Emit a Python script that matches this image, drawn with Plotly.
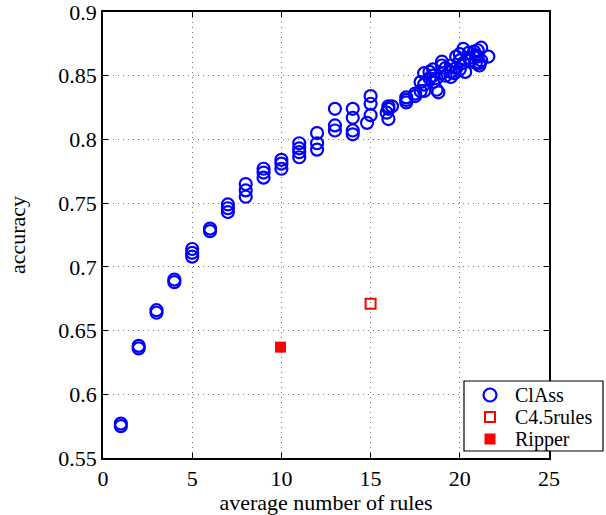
import plotly.graph_objects as go

# ClAss results: (average number of rules, accuracy)
class_x = [1, 1,
           2, 2,
           3, 3,
           4, 4,
           5, 5, 5,
           6, 6,
           7, 7, 7,
           8, 8, 8,
           9, 9, 9,
           10, 10, 10,
           11, 11, 11, 11,
           12, 12, 12,
           13, 13, 13,
           14, 14, 14, 14,
           15, 15, 15, 14.8,
           16, 16, 16, 15.9, 16.2,
           17, 17, 17,
           17.5, 17.5,
           17.8, 17.8,
           18, 18, 18,
           18.3, 18.3,
           18.5, 18.5, 18.5,
           18.7, 18.7, 18.8,
           19, 19, 19,
           19.2, 19.2,
           19.5, 19.5, 19.5,
           19.8, 19.8, 19.7,
           20, 20, 20,
           20.2, 20.2, 20.3,
           20.5, 20.5, 20.6,
           20.8, 20.9, 20.9,
           21, 21, 21.1,
           21.2, 21.2, 21.1,
           21.6]
class_y = [0.577, 0.575,
           0.638, 0.636,
           0.666, 0.664,
           0.690, 0.688,
           0.714, 0.711, 0.708,
           0.730, 0.728,
           0.749, 0.746, 0.743,
           0.765, 0.760, 0.755,
           0.777, 0.774, 0.770,
           0.784, 0.781, 0.777,
           0.797, 0.793, 0.790, 0.786,
           0.805, 0.797, 0.792,
           0.824, 0.811, 0.807,
           0.824, 0.817, 0.807, 0.804,
           0.834, 0.828, 0.819, 0.813,
           0.826, 0.824, 0.816, 0.821, 0.826,
           0.833, 0.831, 0.829,
           0.836, 0.834,
           0.845, 0.838,
           0.852, 0.843, 0.838,
           0.853, 0.848,
           0.855, 0.850, 0.845,
           0.848, 0.839, 0.837,
           0.861, 0.858, 0.852,
           0.856, 0.850,
           0.858, 0.853, 0.849,
           0.865, 0.856, 0.852,
           0.867, 0.862, 0.855,
           0.871, 0.860, 0.853,
           0.868, 0.864, 0.862,
           0.869, 0.866, 0.860,
           0.870, 0.865, 0.860,
           0.872, 0.862, 0.858,
           0.865]

c45_x = [15.0]
c45_y = [0.671]

ripper_x = [9.95]
ripper_y = [0.637]

series_names = ["ClAss", "C4.5rules", "Ripper"]

x_ticks = [0, 5, 10, 15, 20, 25]
y_ticks = [0.55, 0.6, 0.65, 0.7, 0.75, 0.8, 0.85, 0.9]
y_tick_labels = ["0.55", "0.6", "0.65", "0.7", "0.75", "0.8", "0.85", "0.9"]

font_family = "Liberation Serif"
BLUE = "#0000ff"
RED = "#ff0000"

W, H = 606, 515
ML, MR, MT, MB = 103, 57, 12, 57
PW, PH = W - ML - MR, H - MT - MB


def px_to_paper(px, py):
    return (px - ML) / PW, (H - MB - py) / PH


fig = go.Figure()
fig.add_trace(go.Scatter(
    x=class_x, y=class_y, mode="markers", name=series_names[0],
    marker=dict(symbol="circle-open", size=12, color=BLUE,
                line=dict(width=2.2, color=BLUE)),
))
fig.add_trace(go.Scatter(
    x=c45_x, y=c45_y, mode="markers", name=series_names[1],
    marker=dict(symbol="square-open", size=10, color=RED,
                line=dict(width=2, color=RED)),
))
fig.add_trace(go.Scatter(
    x=ripper_x, y=ripper_y, mode="markers", name=series_names[2],
    marker=dict(symbol="square", size=11, color=RED, line=dict(width=0)),
))

# Legend box (drawn manually to match the compact MATLAB legend)
shapes = []
annotations = []
x0, y1 = px_to_paper(464, 381)
x1, y0 = px_to_paper(603, 451)
shapes.append(dict(type="rect", xref="paper", yref="paper", x0=x0, x1=x1,
                   y0=y0, y1=y1, fillcolor="white",
                   line=dict(color="black", width=1.2), layer="above"))
entry_y = [395, 417, 439]
mx = 490
for i, (name, ey) in enumerate(zip(series_names, entry_y)):
    if i == 0:
        a0, b1 = px_to_paper(mx - 6.5, ey - 6.5)
        a1, b0 = px_to_paper(mx + 6.5, ey + 6.5)
        shapes.append(dict(type="circle", xref="paper", yref="paper",
                           x0=a0, x1=a1, y0=b0, y1=b1,
                           line=dict(color=BLUE, width=2.2), layer="above"))
    elif i == 1:
        a0, b1 = px_to_paper(mx - 5, ey - 5)
        a1, b0 = px_to_paper(mx + 5, ey + 5)
        shapes.append(dict(type="rect", xref="paper", yref="paper",
                           x0=a0, x1=a1, y0=b0, y1=b1,
                           line=dict(color=RED, width=2), layer="above"))
    else:
        a0, b1 = px_to_paper(mx - 5.5, ey - 5.5)
        a1, b0 = px_to_paper(mx + 5.5, ey + 5.5)
        shapes.append(dict(type="rect", xref="paper", yref="paper",
                           x0=a0, x1=a1, y0=b0, y1=b1, fillcolor=RED,
                           line=dict(color=RED, width=0), layer="above"))
    tx, ty = px_to_paper(513, ey)
    annotations.append(dict(x=tx, y=ty, xref="paper", yref="paper",
                            text=name, showarrow=False, xanchor="left",
                            yanchor="middle",
                            font=dict(family=font_family, size=20,
                                      color="black")))

axis_common = dict(
    showline=True, linecolor="black", linewidth=1.5, mirror="ticks",
    ticks="inside", ticklen=5, tickcolor="black",
    showgrid=True, gridcolor="#777777", griddash="1px,4px", gridwidth=1,
    zeroline=False, ticklabeloverflow="allow",
    tickfont=dict(family=font_family, size=22, color="black"),
)

fig.update_layout(
    width=W, height=H,
    margin=dict(l=ML, r=MR, t=MT, b=MB, autoexpand=False),
    paper_bgcolor="white", plot_bgcolor="white",
    font=dict(family=font_family, size=22, color="black"),
    xaxis=dict(range=[0, 25], tickvals=x_ticks,
               title=dict(text="average number of rules",
                          font=dict(family=font_family, size=22), standoff=6),
               **axis_common),
    yaxis=dict(range=[0.55, 0.9], tickvals=y_ticks, ticktext=y_tick_labels,
               title=dict(text="accuracy",
                          font=dict(family=font_family, size=22), standoff=27),
               **axis_common),
    shapes=shapes,
    annotations=annotations,
    showlegend=False,
)

fig.write_html("out.html", config={"displayModeBar": False},
               post_script="document.body.style.margin='0px';")
